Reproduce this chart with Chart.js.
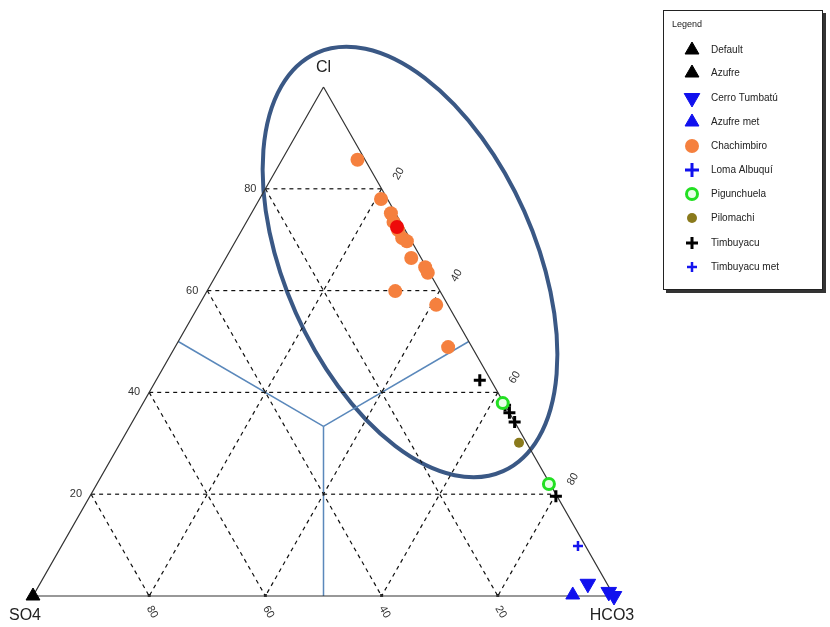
<!DOCTYPE html>
<html>
<head>
<meta charset="utf-8">
<script src="https://cdn.jsdelivr.net/npm/chart.js@4.4.0/dist/chart.umd.min.js"></script>
<style>
  body { margin: 0; background: #fff; }
  #wrap { width: 830px; height: 627px; }
</style>
</head>
<body>
<div id="wrap"><canvas id="myChart" width="830" height="627"></canvas></div>
<script>
// samples as [Cl, SO4, HCO3] in percent
var defaultPts = [];
var azufre = [[0, 100, 0]];
var cerroTumbatu = [[2.4, 3.3, 94.3], [0.8, 0.5, 98.7], [0, 0, 100]];
var azufreMet = [[0.2, 7.0, 92.8]];
var chachimbiro = [
  [85.7, 1.3, 13.0], [78.0, 1.1, 20.9], [75.2, 0.8, 24.0], [73.5, 1.2, 25.3],
  [71.9, 1.2, 26.9], [70.3, 1.3, 28.4], [69.7, 0.8, 29.5], [66.4, 1.7, 31.9],
  [64.6, 0.2, 35.2], [63.5, 0.3, 36.2], [59.9, 7.7, 32.4], [57.2, 2.0, 40.8],
  [48.9, 4.1, 47.0]
];
var chachimbiroSel = [[72.5, 1.1, 26.4]];
var lomaAlbuqui = [];
var pigunchuela = [[37.9, 0.2, 61.9], [22.0, 0.2, 77.8]];
var pilomachi = [[30.1, 1.3, 68.6]];
var timbuyacu = [[42.4, 1.9, 55.7], [37.5, 0.0, 62.5], [36.0, 0.0, 64.0], [34.2, 0.0, 65.8], [19.6, 0.2, 80.2]];
var timbuyacuMet = [[9.8, 1.3, 88.9]];

var gridValues = [20, 40, 60, 80];
var leftLabels = ['20', '40', '60', '80'];    // Cl
var rightLabels = ['20', '40', '60', '80'];   // HCO3
var bottomLabels = ['80', '60', '40', '20'];  // SO4 at HCO3 = 20,40,60,80

function tern(p) {
  var s = p[0] + p[1] + p[2];
  var cl = p[0] / s * 100, hco3 = p[2] / s * 100;
  return { x: hco3 + cl / 2, y: cl };
}
function pts(arr) { return arr.map(tern); }

function lineDs(a, b, dash, color, width) {
  return {
    label: '', data: [tern(a), tern(b)], showLine: true, pointRadius: 0,
    borderColor: color, borderWidth: width, borderDash: dash, order: 10, legend: false
  };
}

var datasets = [];
gridValues.forEach(function (v) {
  datasets.push(lineDs([v, 100 - v, 0], [v, 0, 100 - v], [4, 4], '#111', 1.2));
  datasets.push(lineDs([100 - v, 0, v], [0, 100 - v, v], [4, 4], '#111', 1.2));
  datasets.push(lineDs([100 - v, v, 0], [0, v, 100 - v], [4, 4], '#111', 1.2));
});
var c = [100 / 3, 100 / 3, 100 / 3];
datasets.push(lineDs(c, [50, 50, 0], [], '#5a88bb', 1.5));
datasets.push(lineDs(c, [50, 0, 50], [], '#5a88bb', 1.5));
datasets.push(lineDs(c, [0, 50, 50], [], '#5a88bb', 1.5));
datasets.push({
  label: '', data: pts([[100, 0, 0], [0, 100, 0], [0, 0, 100], [100, 0, 0]]), showLine: true,
  pointRadius: 0, borderColor: '#333', borderWidth: 1.2, order: 9, legend: false
});

function ptDs(label, arr, style, r, bg, border, bw, rot) {
  return {
    label: label, data: pts(arr), pointStyle: style, pointRadius: r, rotation: rot || 0,
    backgroundColor: bg, borderColor: border, borderWidth: bw, showLine: false, order: 1, legend: true
  };
}
var series = [
  ptDs('Default', defaultPts, 'triangle', 8, '#000', '#000', 1),
  ptDs('Azufre', azufre, 'triangle', 8, '#000', '#000', 1),
  ptDs('Cerro Tumbatú', cerroTumbatu, 'triangle', 9, '#1010ee', '#1010ee', 1, 180),
  ptDs('Azufre met', azufreMet, 'triangle', 8, '#1010ee', '#1010ee', 1),
  ptDs('Chachimbiro', chachimbiro, 'circle', 7, '#f5803e', '#f5803e', 0),
  ptDs('Loma Albuquí', lomaAlbuqui, 'cross', 7, '#1010ee', '#1010ee', 3),
  ptDs('Pigunchuela', pigunchuela, 'circle', 5.5, '#e8ffe8', '#22e022', 3),
  ptDs('Pilomachi', pilomachi, 'circle', 5, '#8a7a1c', '#8a7a1c', 0),
  ptDs('Timbuyacu', timbuyacu, 'cross', 6, '#000', '#000', 3),
  ptDs('Timbuyacu met', timbuyacuMet, 'cross', 5, '#1515ee', '#1515ee', 2.5)
];
var sel = ptDs('', chachimbiroSel, 'circle', 7, '#ee0a0a', '#ee0a0a', 0);
sel.legend = false;
sel.order = 0;
datasets = datasets.concat(series, [sel]);

var extras = {
  id: 'extras',
  beforeDatasetsDraw: function (chart) {
    var ctx = chart.ctx, xs = chart.scales.x, ys = chart.scales.y;
    function px(p) { var t = tern(p); return [xs.getPixelForValue(t.x), ys.getPixelForValue(t.y)]; }
    ctx.save();
    ctx.fillStyle = '#333';
    ctx.font = '11px Arial';
    ctx.textBaseline = 'middle';
    gridValues.forEach(function (v, i) {
      var l = px([v, 100 - v, 0]);
      ctx.textAlign = 'right';
      ctx.fillText(leftLabels[i], l[0] - 9, l[1]);
      var r = px([100 - v, 0, v]);
      ctx.save();
      ctx.translate(r[0] + 17, r[1] - 15);
      ctx.rotate(-Math.PI / 3);
      ctx.textAlign = 'center';
      ctx.fillText(rightLabels[i], 0, 0);
      ctx.restore();
      var b = px([0, 100 - v, v]);
      ctx.save();
      ctx.translate(b[0] + 3, b[1] + 16);
      ctx.rotate(Math.PI / 3);
      ctx.textAlign = 'center';
      ctx.fillText(bottomLabels[i], 0, 0);
      ctx.restore();
      // small tick marks on the base
      ctx.fillRect(b[0] - 1.5, b[1] - 2, 3, 3);
    });
    ctx.font = '16px Arial';
    ctx.fillStyle = '#222';
    ctx.textAlign = 'center';
    var top = px([100, 0, 0]), bl = px([0, 100, 0]), br = px([0, 0, 100]);
    ctx.fillText('Cl', top[0], top[1] - 19);
    ctx.fillText('SO4', bl[0] - 8, bl[1] + 20);
    ctx.fillText('HCO3', br[0] - 2, br[1] + 20);
    // grouping ellipse
    ctx.strokeStyle = '#3a5885';
    ctx.lineWidth = 4;
    ctx.beginPath();
    ctx.ellipse(410, 262, 229, 125, 66 * Math.PI / 180, 0, Math.PI * 2);
    ctx.stroke();
    ctx.restore();
  },
  afterDraw: function (chart) {
    var ctx = chart.ctx;
    ctx.save();
    ctx.fillStyle = '#333';
    ctx.fillRect(666, 13, 160, 280);
    ctx.fillStyle = '#fff';
    ctx.fillRect(663, 10, 160, 280);
    ctx.strokeStyle = '#222';
    ctx.lineWidth = 1;
    ctx.strokeRect(663.5, 10.5, 159, 279);
    ctx.fillStyle = '#222';
    ctx.font = '9px Arial';
    ctx.textAlign = 'left';
    ctx.textBaseline = 'middle';
    ctx.fillText('Legend', 672, 25);
    ctx.font = '10px Arial';
    var rowY = [50, 73, 98, 122, 146, 170, 194, 218, 243, 267];
    series.forEach(function (ds, i) {
      ctx.fillStyle = ds.backgroundColor;
      ctx.strokeStyle = ds.borderColor;
      ctx.lineWidth = ds.borderWidth;
      ctx.beginPath();
      Chart.helpers.drawPoint(ctx, {
        pointStyle: ds.pointStyle, radius: ds.pointRadius, rotation: ds.rotation,
        borderWidth: ds.borderWidth
      }, 692, rowY[i]);
      ctx.fillStyle = '#222';
      ctx.fillText(ds.label, 711, rowY[i]);
    });
    ctx.restore();
  }
};

var ctx = document.getElementById('myChart').getContext('2d');
var chart = new Chart(ctx, {
  type: 'scatter',
  data: { datasets: datasets },
  options: {
    responsive: false,
    animation: false,
    devicePixelRatio: 1,
    layout: { padding: { left: 33, right: 216, top: 87, bottom: 31 } },
    datasets: { scatter: { clip: false } },
    scales: {
      x: { type: 'linear', min: 0, max: 100, display: false },
      y: { type: 'linear', min: 0, max: 100, display: false }
    },
    plugins: { legend: { display: false }, tooltip: { enabled: false } }
  },
  plugins: [extras]
});
</script>
</body>
</html>
